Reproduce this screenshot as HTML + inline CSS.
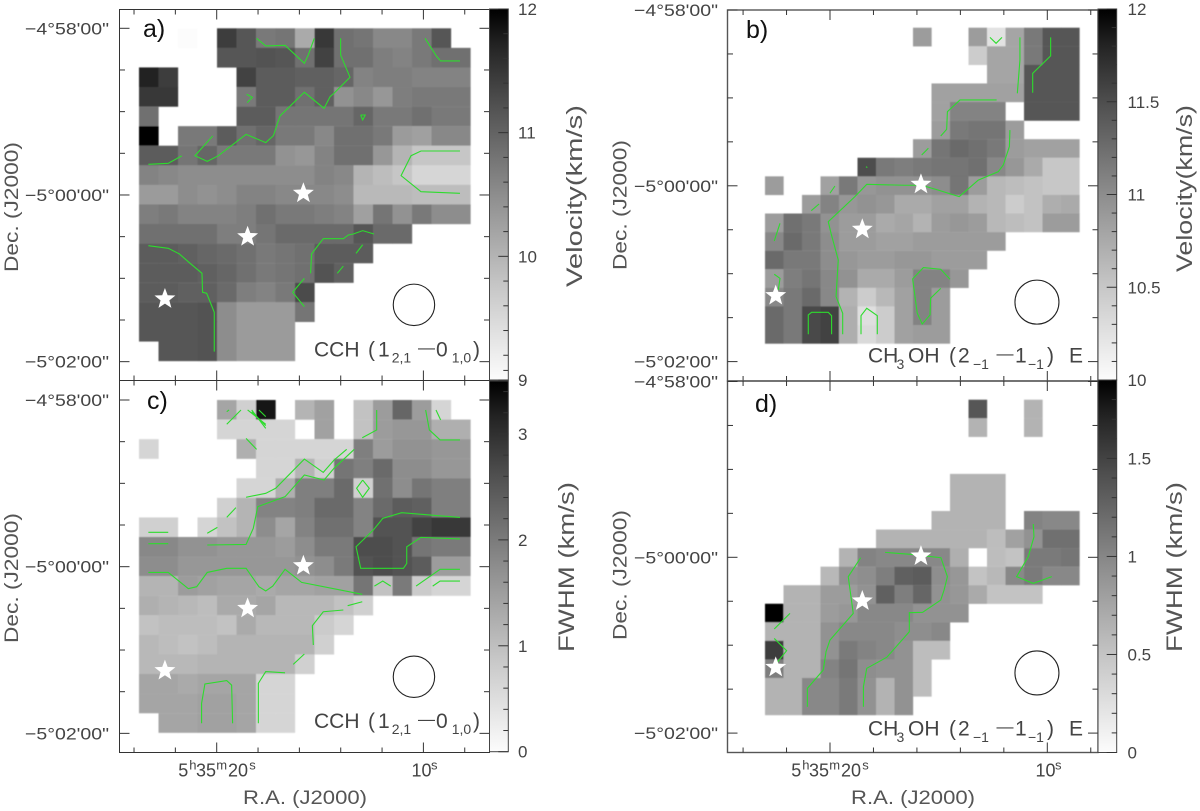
<!DOCTYPE html>
<html lang="en">
<head>
<meta charset="utf-8">
<title>CCH and CH3OH velocity and FWHM maps</title>
<style>
html,body{margin:0;padding:0;background:#fff;}
svg{display:block;}
text{font-family:"Liberation Sans","DejaVu Sans",sans-serif;fill:#444;}
text.title{fill:#555;}
</style>
</head>
<body>
<svg id="figure" xmlns="http://www.w3.org/2000/svg" width="1200" height="811" viewBox="0 0 1200 811">
<defs>
<linearGradient id="cbGradient" x1="0" y1="0" x2="0" y2="1">
<stop offset="0" stop-color="#000"/>
<stop offset="0.1" stop-color="#242424"/>
<stop offset="0.25" stop-color="#4e4e4e"/>
<stop offset="0.5" stop-color="#8d8d8d"/>
<stop offset="0.75" stop-color="#c7c7c7"/>
<stop offset="1" stop-color="#fcfcfc"/>
</linearGradient>
<filter id="pixelSoften" filterUnits="userSpaceOnUse" x="0" y="0" width="1200" height="811">
<feGaussianBlur stdDeviation="0.55"/>
</filter>
</defs>
<g id="layer-pixels" filter="url(#pixelSoften)"></g>
<g id="layer-contours"></g>
<g id="layer-axes"></g>
<g id="layer-labels"></g>

<text x="143" y="37" font-size="25" style="fill:#111">a)</text>
<text x="746" y="38" font-size="25" style="fill:#111">b)</text>
<text x="147" y="409" font-size="25" style="fill:#111">c)</text>
<text x="755" y="412" font-size="25" style="fill:#111">d)</text>

<g>
<text font-size="21" y="356.7"><tspan x="314">CCH</tspan><tspan x="368">(</tspan><tspan x="378">1</tspan><tspan x="436">0</tspan><tspan x="473">)</tspan></text>
<text font-size="14" y="362.5"><tspan x="391.7">2,1</tspan><tspan x="451.7">1,0</tspan></text>
<text font-size="17" x="418" y="353">—</text>
</g>
<g transform="translate(0,371.5)">
<text font-size="21" y="356.7"><tspan x="314">CCH</tspan><tspan x="368">(</tspan><tspan x="378">1</tspan><tspan x="436">0</tspan><tspan x="473">)</tspan></text>
<text font-size="14" y="362.5"><tspan x="391.7">2,1</tspan><tspan x="451.7">1,0</tspan></text>
<text font-size="17" x="418" y="353">—</text>
</g>
<g>
<text font-size="21" y="362.7"><tspan x="868">CH</tspan><tspan x="908">OH</tspan><tspan x="949">(</tspan><tspan x="958">2</tspan><tspan x="1015">1</tspan><tspan x="1047">)</tspan><tspan x="1069">E</tspan></text>
<text font-size="14" y="369"><tspan x="896.5">3</tspan><tspan x="973">−1</tspan><tspan x="1028">−1</tspan></text>
<text font-size="17" x="996.5" y="359">—</text>
</g>
<g transform="translate(0,373)">
<text font-size="21" y="362.7"><tspan x="868">CH</tspan><tspan x="908">OH</tspan><tspan x="949">(</tspan><tspan x="958">2</tspan><tspan x="1015">1</tspan><tspan x="1047">)</tspan><tspan x="1069">E</tspan></text>
<text font-size="14" y="369"><tspan x="896.5">3</tspan><tspan x="973">−1</tspan><tspan x="1028">−1</tspan></text>
<text font-size="17" x="996.5" y="359">—</text>
</g>

<g>
<text font-size="18" y="776.7"><tspan x="178.3">5</tspan><tspan x="196">35</tspan><tspan x="228">20</tspan><tspan x="411.5">10</tspan></text>
<text font-size="13" y="769.5"><tspan x="189.3">h</tspan><tspan x="216.3">m</tspan><tspan x="249.3">s</tspan><tspan x="431">s</tspan></text>
</g>
<g>
<text font-size="18" y="776.7"><tspan x="791.3">5</tspan><tspan x="809">35</tspan><tspan x="841">20</tspan><tspan x="1035.5">10</tspan></text>
<text font-size="13" y="769.5"><tspan x="802.3">h</tspan><tspan x="829.3">m</tspan><tspan x="862.3">s</tspan><tspan x="1055">s</tspan></text>
</g>

<text class="title" x="243" y="804" font-size="19" textLength="124" lengthAdjust="spacingAndGlyphs">R.A.  (J2000)</text>
<text class="title" x="851" y="804" font-size="19" textLength="124" lengthAdjust="spacingAndGlyphs">R.A.  (J2000)</text>

<text class="title" transform="translate(18,272) rotate(-90)" font-size="19" textLength="130" lengthAdjust="spacingAndGlyphs">Dec.  (J2000)</text>
<text class="title" transform="translate(626.7,270) rotate(-90)" font-size="19" textLength="130" lengthAdjust="spacingAndGlyphs">Dec.  (J2000)</text>
<text class="title" transform="translate(18,643) rotate(-90)" font-size="19" textLength="130" lengthAdjust="spacingAndGlyphs">Dec.  (J2000)</text>
<text class="title" transform="translate(626.7,640) rotate(-90)" font-size="19" textLength="130" lengthAdjust="spacingAndGlyphs">Dec.  (J2000)</text>

<text class="title" transform="translate(582,287) rotate(-90)" font-size="22" textLength="182" lengthAdjust="spacingAndGlyphs">Velocity(km/s)</text>
<text class="title" transform="translate(1192,272) rotate(-90)" font-size="22" textLength="167" lengthAdjust="spacingAndGlyphs">Velocity(km/s)</text>
<text class="title" transform="translate(574,652) rotate(-90)" font-size="22" textLength="170" lengthAdjust="spacingAndGlyphs">FWHM  (km/s)</text>
<text class="title" transform="translate(1182,652) rotate(-90)" font-size="22" textLength="170" lengthAdjust="spacingAndGlyphs">FWHM  (km/s)</text>
</svg>

<script>
// ---------- DATA: pixel values per map (rows top to bottom, columns left to right) ----------
const n = null;
const velocityCCH = [
[n,n,9.04,n,11.35,11.06,10.65,10.71,10.06,11.41,10.76,10.71,10.47,10.47,10.65,11.06],
[n,n,n,n,11.06,11.06,11.12,11.06,10.76,11.29,10.76,10.76,10.59,10.53,10.65,10.76,10.76],
[11.65,11.35,n,n,n,11.29,11,11,10.94,10.94,10.88,10.53,10.59,10.59,10.53,10.53,10.53],
[11.41,11.41,n,n,n,10.65,11,11,10.76,10.94,10.35,10.47,10.29,10.59,10.65,10.65,10.65],
[10.76,n,n,n,n,11,11,10.71,10.71,10.71,10.71,10.88,10.65,10.65,10.76,10.65,10.65],
[12,n,10.65,10.65,11,10.76,10.88,10.65,10.65,10.47,10.76,10.76,10.65,10.24,10.18,10.47,10.47],
[11,11,10.71,10.88,10.65,10.65,10.65,10.35,10.29,10.53,10.76,10.76,10.29,9.94,9.71,9.71,9.71],
[10.53,10.47,10.41,10.41,10.41,10.41,10.41,10.41,10.41,10.53,10.47,9.94,9.82,9.71,9.51,9.51,9.51],
[10.24,10.24,10.41,10.35,10.41,10.53,10.53,10.47,10.47,10.47,10.41,9.88,9.88,9.88,9.82,9.82,9.82],
[10.59,10.65,10.53,10.53,10.53,10.59,10.76,10.65,10.65,10.59,10.53,10.18,10.71,10.35,10.65,10.41,10.41],
[10.76,10.76,10.76,10.76,10.59,10.59,10.71,10.82,10.82,10.82,10.82,11.06,10.82,10.82],
[11,11,10.94,10.88,10.82,10.76,10.65,10.71,10.76,11,11,11],
[11,11,11,10.94,10.88,10.76,10.65,10.71,10.76,11.12,10.94],
[11,11,10.94,10.94,10.82,10.59,10.53,10.65,11.18],
[11.06,11.06,11.06,11.12,10.41,10.24,10.24,10.24,10.71],
[11.06,11.06,11.06,11.12,10.41,10.24,10.24,10.24],
[n,11.06,11.06,11.12,10.41,10.24,10.24,10.24]
];
const velocityCH3OH = [
[n,n,n,n,n,n,n,n,10.82,n,n,10.82,10.24,10.75,11.1,11.37,11.37],
[n,n,n,n,n,n,n,n,n,n,n,10.43,10.75,10.75,11.1,11.37,11.37],
[n,n,n,n,n,n,n,n,n,n,n,n,10.75,10.75,11.37,11.37,11.37],
[n,n,n,n,n,n,n,n,n,10.78,10.78,10.78,10.78,10.78,11.37,11.37,11.37],
[n,n,n,n,n,n,n,n,n,10.78,11.02,11.02,11.02,n,11.37,11.37,11.37],
[n,n,n,n,n,n,n,n,n,10.82,11.1,11.14,11.14,10.82],
[n,n,n,n,n,n,n,n,10.82,11.14,11.22,11.18,11.1,10.82,10.78,10.78,10.78],
[n,n,n,n,n,11.45,11.1,11.06,11.1,11.14,11.14,11.18,10.98,10.86,10.71,10.47,10.47],
[10.82,n,n,10.78,11.1,10.86,10.9,10.9,10.9,10.94,11.14,10.82,10.59,10.55,10.51,10.47,10.47],
[n,n,10.82,11.02,10.86,10.9,10.86,10.71,10.71,10.78,10.78,10.63,10.59,10.43,10.51,10.67,10.71],
[10.82,11.18,11.1,10.9,10.82,10.82,10.71,10.75,10.63,10.82,10.86,10.82,10.59,10.55,10.51,10.82,10.82],
[10.98,11.22,11.1,10.94,10.82,10.82,10.78,10.78,10.82,10.82,10.82,10.82,10.82],
[11.22,11.1,11.1,10.94,10.86,10.82,10.82,10.86,10.86,10.82,10.82,10.82],
[10.82,11.06,11.14,10.98,10.9,10.71,10.71,10.82,11.02,11.02,10.86],
[10.98,11.1,11.22,10.98,10.63,10.43,10.59,10.78,11.02,10.82],
[11.22,11.1,11.49,11.53,10.67,10.27,10.43,10.78,11.02,10.82],
[11.22,11.1,11.49,11.53,10.67,10.31,10.43,10.78,10.82,10.82]
];
const fwhmCCH = [
[n,n,n,n,1.31,.69,3.29,n,1.1,1.37,n,.89,1.44,2.2,1.44,.62],
[n,n,n,n,.62,.62,.62,.62,n,1.37,n,.89,1.44,1.51,1.51,1.17,1.17],
[.62,n,n,n,n,1.17,.62,.62,.62,.62,.62,1.85,1.44,1.58,1.58,1.51,1.51],
[n,n,n,n,n,n,.62,.62,1.1,.69,1.99,1.85,2.13,1.65,1.65,1.51,1.51],
[n,n,n,n,n,.62,.62,1.17,1.85,1.85,2.13,.69,2.06,1.65,1.99,1.85,1.85],
[n,n,n,n,.69,1.1,1.79,1.79,1.85,2.13,2.13,1.79,2.13,2.33,2.27,1.85,1.85],
[.69,.69,n,.62,.89,1.1,1.65,1.31,1.79,2.06,2.06,1.79,2.47,2.47,2.68,2.81,2.81],
[1.72,1.72,1.58,1.58,1.51,1.51,1.51,1.44,1.65,1.92,1.92,2.54,2.54,2.47,1.99,1.92,1.92],
[1.65,1.65,1.51,1.51,1.51,1.51,1.51,1.51,1.58,1.65,1.92,2.47,2.54,2.47,2.33,1.44,1.44],
[1.1,1.1,1.44,1.37,1.31,1.31,1.24,1.31,1.31,1.37,1.37,1.99,.89,1.92,.76,.62,.62],
[1.17,1.1,1.03,.96,1.24,1.24,1.31,1.03,1.03,1.03,.89,.69],
[.89,.96,.96,.96,.89,1.24,1.03,1.03,1.03,.76,.62],
[1.03,.96,.89,.96,1.1,1.1,1.1,1.1,1.1,.69],
[1.03,1.03,1.03,1.1,1.1,1.1,1.1,1.1,.69],
[1.31,1.31,1.24,1.31,1.31,1.31,.62,.62],
[1.31,1.31,1.31,1.37,1.37,1.31,.62,.62],
[n,1.31,1.31,1.37,1.37,1.31,.62,.62]
];
const fwhmCH3OH = [
[n,n,n,n,n,n,n,n,n,n,n,1.3,n,n,.6],
[n,n,n,n,n,n,n,n,n,n,n,.6,n,n,.6],
[],
[],
[n,n,n,n,n,n,n,n,n,n,.6,.6,.6],
[n,n,n,n,n,n,n,n,n,n,.6,.6,.6],
[n,n,n,n,n,n,n,n,n,.6,.6,.6,.6,n,.97,.93,.93],
[n,n,n,n,n,n,.6,.6,.6,.6,.6,.6,.52,.74,.86,1.12,1.12],
[n,n,n,n,.6,.97,.93,.93,.93,.93,.63,n,.52,.48,1.04,1.04,1.08],
[n,n,n,.56,.86,.89,1.01,1.23,1.27,.89,.82,.48,.56,.93,1.04,.93,.93],
[n,.6,.6,.78,.78,.86,1.23,1.01,1.19,.86,.82,.67,.48,.48,.48],
[1.9,.6,.6,.78,.82,.93,.93,.93,.86,.86,.86],
[.6,.6,.6,.86,.93,.93,.93,.89,.89,.93],
[1.49,.6,.6,.86,1.04,.97,.93,.86,.52,.52],
[1.01,.6,.6,.97,1.08,.89,.86,.86,.52],
[.6,.6,.93,.93,1.04,.86,.6,.86,.52],
[.6,.6,.93,.93,1.04,.86,.6,.86]
];

// ---------- DATA: contours as [column, row] positions in map pixel units ----------
const contoursA = [
[[6.03,.51],[6.5,.9],[7.49,.87],[8.48,1.79],[8.68,1.36],[8.99,.51]],
[[10.34,.51],[10.34,1.36],[10.82,2.5],[10,3.32],[9.8,3.49],[9.49,4.09],[8.48,3.27],[7.23,4.48],[6.89,5.49],[6.5,5.84],[5.49,5.42],[4.07,6.51],[3.5,6.8],[2.87,6.51],[3.78,5.5]],
[[.48,6.95],[1.5,6.9],[2.19,6.52]],
[[5.52,3.37],[5.81,3.53],[5.55,3.8]],
[[11.37,4.43],[11.6,4.43],[11.47,4.68],[11.37,4.43]],
[[14.67,.51],[15.27,1.45],[15.47,1.67],[16.46,1.67]],
[[16.46,6.27],[14.46,6.27],[13.95,6.51],[13.44,7.53],[14.46,8.35],[16.46,8.43]],
[[12.05,10.51],[11.47,10.34],[10.99,10.51],[10.74,10.56],[10.48,10.75],[9.45,10.75],[8.85,11.53],[8.8,12.52]],
[[11.47,11.06],[11.13,11.5]],
[[10.48,12.15],[10.17,12.52]],
[[8.48,12.78],[7.88,13.49],[8.48,14.22]],
[[.48,11.11],[1.5,11.24],[2.07,11.53],[2.62,12.01],[3.23,12.52],[3.26,13.49],[3.47,13.54],[3.86,14.51],[3.86,16.52]]
];
const contoursB = [
[[12.16,.52],[12.49,.84],[12.81,.52]],
[[13.78,.52],[13.78,1.74],[13.64,3.53]],
[[15.44,.52],[15.44,1.52],[14.47,2.46],[14.47,3.5]],
[[12.52,3.89],[10.54,3.89],[10,4.39],[9.86,4.52],[9.82,5.47],[9.5,5.83]],
[[13.24,5.51],[13.21,6.4],[12.88,7.39],[12.61,7.75],[11.53,8.2],[10.5,9.09],[9.37,8.74],[8.47,8.48],[7.57,8.48],[5.5,8.43],[4.86,9.09],[3.42,10.44],[3.57,11.07],[3.96,12.5],[3.84,14.47],[4.2,15.37],[4.2,16.5]],
[[8.83,6.49],[8.47,6.85]],
[[5.46,7.48],[5.53,7.53]],
[[3.78,8.52],[3.51,8.91]],
[[2.92,9.49],[2.5,9.85]],
[[.81,10.53],[.5,11.48]],
[[.5,13.27],[.81,13.49],[.72,14.12]],
[[2.34,16.5],[2.34,15.46],[2.52,15.32],[3.42,15.32],[3.6,15.5],[3.6,16.5]],
[[5.19,16.5],[5.19,15.5],[5.5,15.1],[6.07,15.5],[6.07,16.5]],
[[10,13.54],[9.5,13],[8.56,12.91],[7.98,13.52],[8.23,15.37],[8.5,15.95],[8.92,15.46],[8.95,14.56],[9.5,14.03]]
];
const contoursC = [
[[4.5,.6],[4.62,.51]],
[[5.23,.51],[4.5,1.24]],
[[5.78,.51],[6.5,1.45]],
[[5.78,.6],[6.5,1.31]],
[[5.57,.51],[6.5,1.24]],
[[6.15,.51],[6.5,.85]],
[[12.19,.51],[12.19,1.53],[11.45,1.93]],
[[14.7,.51],[14.89,1.53],[15.44,2.04],[16.46,2.04]],
[[15.23,.51],[15.47,1.02]],
[[5.49,1.96],[6.03,2.52]],
[[10.65,2.52],[10,3.07],[9.45,3.7],[8.48,3.02],[7.01,4.51],[6.5,4.77],[5.49,4.97]],
[[11.04,2.52],[10,3.49],[9.49,4.09],[8.48,3.83],[7.49,4.94],[6.09,5.45],[5.86,6.56],[5.49,7.38],[3.5,7.41]],
[[4.97,5.5],[4.5,6]],
[[11.47,4.09],[11.81,4.51],[11.47,4.97],[11.16,4.51],[11.47,4.09]],
[[.48,6.76],[1.5,6.76]],
[[.48,7.34],[1.5,7.34]],
[[3.5,6.81],[4.02,6.51]],
[[16.46,6],[13.47,5.76],[12.5,6.05],[12.02,6.64],[11.13,7.5],[11.37,8.6],[13.56,8.6],[13.73,8.35],[13.73,7.5],[14.46,7.02],[16.46,7.1]],
[[.48,8.81],[1.5,8.81],[2.53,9.64],[2.96,9.54],[3.5,8.81],[4.5,8.6],[5.49,8.6],[6.15,9.54],[6.5,9.76],[6.86,9.51],[7.49,8.65],[8.34,9.32],[11.45,9.93]],
[[14.21,9.51],[15.44,8.65],[16.46,8.65]],
[[15.06,9.51],[15.44,9.25],[16.46,9.25]],
[[12.07,9.51],[12.5,9.25],[12.91,9.51]],
[[11.45,10.31],[10.7,10.51]],
[[10.48,10.73],[9.45,10.82],[8.89,11.53],[8.94,12.52]],
[[8.48,12.98],[7.91,13.51]],
[[7.49,13.94],[6.5,13.88],[6.12,14.48],[6.12,16.52]],
[[3.21,16.52],[3.21,15.5],[3.38,14.51],[4.5,14.34],[4.75,14.57],[4.8,16.52]]
];
const contoursD = [
[[1.35,11.52],[.5,12.36]],
[[.5,12.87],[1.17,13.53],[.54,14.3]],
[[5.17,8.52],[4.5,9.54],[4.77,11.52],[3.51,12.96],[3.3,13.58],[3.15,14.57],[2.29,15.56],[2.29,16.55]],
[[6.49,8.23],[7.93,8.34],[9.51,8.52],[9.86,9.54],[9.68,10.26],[9.5,10.8],[8.52,11.46],[7.8,11.48],[7.8,12.51],[6.58,13.89],[5.5,14.48],[5.32,15.47],[5.32,16.55]],
[[14.5,6.7],[14.54,7.39],[14.23,8.46],[13.6,9.54],[14.5,9.9],[15.5,9.54]]
];

// ---------- DATA: stars and beams in map pixel units ----------
const starsA = [[8.43,8.43],[5.57,10.65],[1.33,13.83]];
const starsB = [[8.43,8.43],[5.26,10.85],[.58,14.42]];
const starsC = [[8.43,8.47],[5.57,10.65],[1.33,13.83]];
const starsD = [[8.43,8.43],[5.26,10.85],[.58,14.43]];
const beamA = [14.1,14.13];
const beamB = [14.7,14.77];
const beamC = [14.1,14.14];
const beamD = [14.7,14.73];

// ---------- DATA: tick values and labels ----------
const raTicks = [24,22,20,18,16,14,12,10,8];
const raMajor = [20,10];
const decTicks = [0,30,60,90,120,150,180,210,240];
const decMajor = [0,120,240];
const decLabels = ['−4°58\'00"','−5°00\'00"','−5°02\'00"'];
const cbLabelsA = [9,10,11,12];
const cbLabelsB = [10,10.5,11,11.5,12];
const cbLabelsC = [0,1,2,3];
const cbLabelsD = [0,0.5,1,1.5];

// ---------- LAYOUT ----------
const panels = [
 {id:'a',values:velocityCCH,contours:contoursA,stars:starsA,beam:beamA,beamR:20.7,min:9,max:12,cbLabels:cbLabelsA,cbStep:.2,
  left:119.5,right:489.5,top:9.5,bottom:380.5,gx:139,gy:28.3,cw:19.5,ch:19.57,ra20:216.7,raPx:20.67,dec0:28.3,decPx:1.389,
  cbLeft:489.5,cbRight:508.3,cbTop:9,cbBottom:380,labX:109,labW:84,cbLabX:518,frame:'#333',fw:1},
 {id:'b',values:velocityCH3OH,contours:contoursB,stars:starsB,beam:beamB,beamR:22,min:10,max:12,cbLabels:cbLabelsB,cbStep:.1,
  left:727.5,right:1098,top:10,bottom:381,gx:765,gy:27.7,cw:18.5,ch:18.58,ra20:830,raPx:21.73,dec0:10,decPx:1.465,
  cbLeft:1098,cbRight:1116.7,cbTop:9,cbBottom:380,labX:718,labW:84,cbLabX:1127.5,frame:'#555',fw:1.4},
 {id:'c',values:fwhmCCH,contours:contoursC,stars:starsC,beam:beamC,beamR:20.7,min:0,max:3.5,cbLabels:cbLabelsC,cbStep:.2,
  left:119.5,right:489.5,top:380.5,bottom:752.5,gx:139,gy:400,cw:19.5,ch:19.57,ra20:216.7,raPx:20.67,dec0:400,decPx:1.389,
  cbLeft:489.5,cbRight:508.3,cbTop:381,cbBottom:751.7,labX:109,labW:84,cbLabX:518,frame:'#333',fw:1},
 {id:'d',values:fwhmCH3OH,contours:contoursD,stars:starsD,beam:beamD,beamR:22,min:0,max:1.9,cbLabels:cbLabelsD,cbStep:.1,
  left:727.5,right:1098,top:381,bottom:752.5,gx:765,gy:399.7,cw:18.5,ch:18.55,ra20:830,raPx:21.73,dec0:381.5,decPx:1.465,
  cbLeft:1098,cbRight:1116.7,cbTop:380,cbBottom:752.5,labX:718,labW:84,cbLabX:1127.5,frame:'#555',fw:1.4}
];

const NS = 'http://www.w3.org/2000/svg';
const layerPixels = document.getElementById('layer-pixels');
const layerContours = document.getElementById('layer-contours');
const layerAxes = document.getElementById('layer-axes');
const layerLabels = document.getElementById('layer-labels');

function make(tag, attrs, parent){
  const el = document.createElementNS(NS, tag);
  for (const k in attrs) el.setAttribute(k, attrs[k]);
  parent.appendChild(el);
  return el;
}
function xScale(p,u){ return p.gx + u*p.cw; }
function yScale(p,v){ return p.gy + v*p.ch; }
function raScale(p,ra){ return p.ra20 + (20-ra)*p.raPx; }
function decScale(p,sec){ return p.dec0 + sec*p.decPx; }
function cbScale(p,val){ return p.cbBottom - (val-p.min)/(p.max-p.min)*(p.cbBottom-p.cbTop); }
function grayOf(p,val){
  const t = Math.max(0, Math.min(1, 1-(val-p.min)/(p.max-p.min)));
  const g = Math.round(255*Math.pow(t,0.93));
  return 'rgb('+g+','+g+','+g+')';
}
function line(x1,y1,x2,y2,stroke,width,parent,name){
  const el = make('line',{x1:x1,y1:y1,x2:x2,y2:y2,stroke:stroke,'stroke-width':width},parent);
  
  
  return el;
}
function starPoints(cx,cy,R){
  const r = R*0.42, pts = [];
  for (let i=0;i<10;i++){
    const a = -Math.PI/2 + i*Math.PI/5, rad = i%2 ? r : R;
    pts.push((cx+rad*Math.cos(a)).toFixed(2)+','+(cy+rad*Math.sin(a)).toFixed(2));
  }
  return pts.join(' ');
}

panels.forEach(function(p){
  // map pixels
  p.values.forEach(function(row,ri){
    row.forEach(function(val,ci){
      if (val === null) return;
      const rect = make('rect',{x:xScale(p,ci),y:yScale(p,ri),width:p.cw+0.15,height:p.ch+0.15,fill:grayOf(p,val)},layerPixels);
      
      
    });
  });
  // contours
  p.contours.forEach(function(c){
    const pts = c.map(function(q){ return xScale(p,q[0]).toFixed(2)+','+yScale(p,q[1]).toFixed(2); }).join(' ');
    const pl = make('polyline',{points:pts,fill:'none',stroke:'#2ddc2d','stroke-width':1.1},layerContours);
    
    
  });
  // stars
  p.stars.forEach(function(s){
    const st = make('polygon',{points:starPoints(xScale(p,s[0]),yScale(p,s[1]),11),fill:'#fff'},layerContours);
    
    
  });
  // beam
  const beam = make('circle',{cx:xScale(p,p.beam[0]),cy:yScale(p,p.beam[1]),r:p.beamR,fill:'none',stroke:'#222','stroke-width':1.1},layerContours);
  
  

  // frame
  const frame = make('rect',{x:p.left,y:p.top,width:p.right-p.left,height:p.bottom-p.top,fill:'none',stroke:p.frame,'stroke-width':p.fw},layerAxes);
  
  

  // RA ticks
  raTicks.forEach(function(ra){
    const x = raScale(p,ra), len = raMajor.indexOf(ra)>=0 ? 10 : 5;
    line(x,p.bottom,x,p.bottom-len,'#333',1,layerAxes,'ra-tick-bottom');
    line(x,p.top,x,p.top+len,'#333',1,layerAxes,'ra-tick-top');
  });
  // Dec ticks
  decTicks.forEach(function(sec){
    const y = decScale(p,sec), len = decMajor.indexOf(sec)>=0 ? 10 : 5.5;
    line(p.left,y,p.left+len,y,'#333',1,layerAxes,'dec-tick-left');
    line(p.right,y,p.right-len,y,'#333',1,layerAxes,'dec-tick-right');
  });
  // Dec labels
  decMajor.forEach(function(sec,i){
    const t = make('text',{x:p.labX,y:decScale(p,sec)+6,'font-size':17,'text-anchor':'end',textLength:p.labW,lengthAdjust:'spacingAndGlyphs'},layerLabels);
    
    
    t.textContent = decLabels[i];
  });

  // colorbar
  const cb = make('rect',{x:p.cbLeft,y:p.cbTop,width:p.cbRight-p.cbLeft,height:p.cbBottom-p.cbTop,fill:'url(#cbGradient)',stroke:'#444','stroke-width':1},layerAxes);
  
  
  const steps = Math.round((p.max-p.min)/p.cbStep);
  for (let i=0;i<=steps;i++){
    const val = p.min + i*p.cbStep, isMajor = p.cbLabels.some(function(m){ return Math.abs(m-val)<1e-6; });
    const y = cbScale(p,val);
    line(p.cbRight,y,p.cbRight-(isMajor?10:5),y,'#333',1,layerAxes,'colorbar-tick');
  }
  p.cbLabels.forEach(function(val){
    const t = make('text',{x:p.cbLabX,y:cbScale(p,val)+6,'font-size':17},layerLabels);
    
    
    t.textContent = String(val);
  });
});
</script>
</body>
</html>
